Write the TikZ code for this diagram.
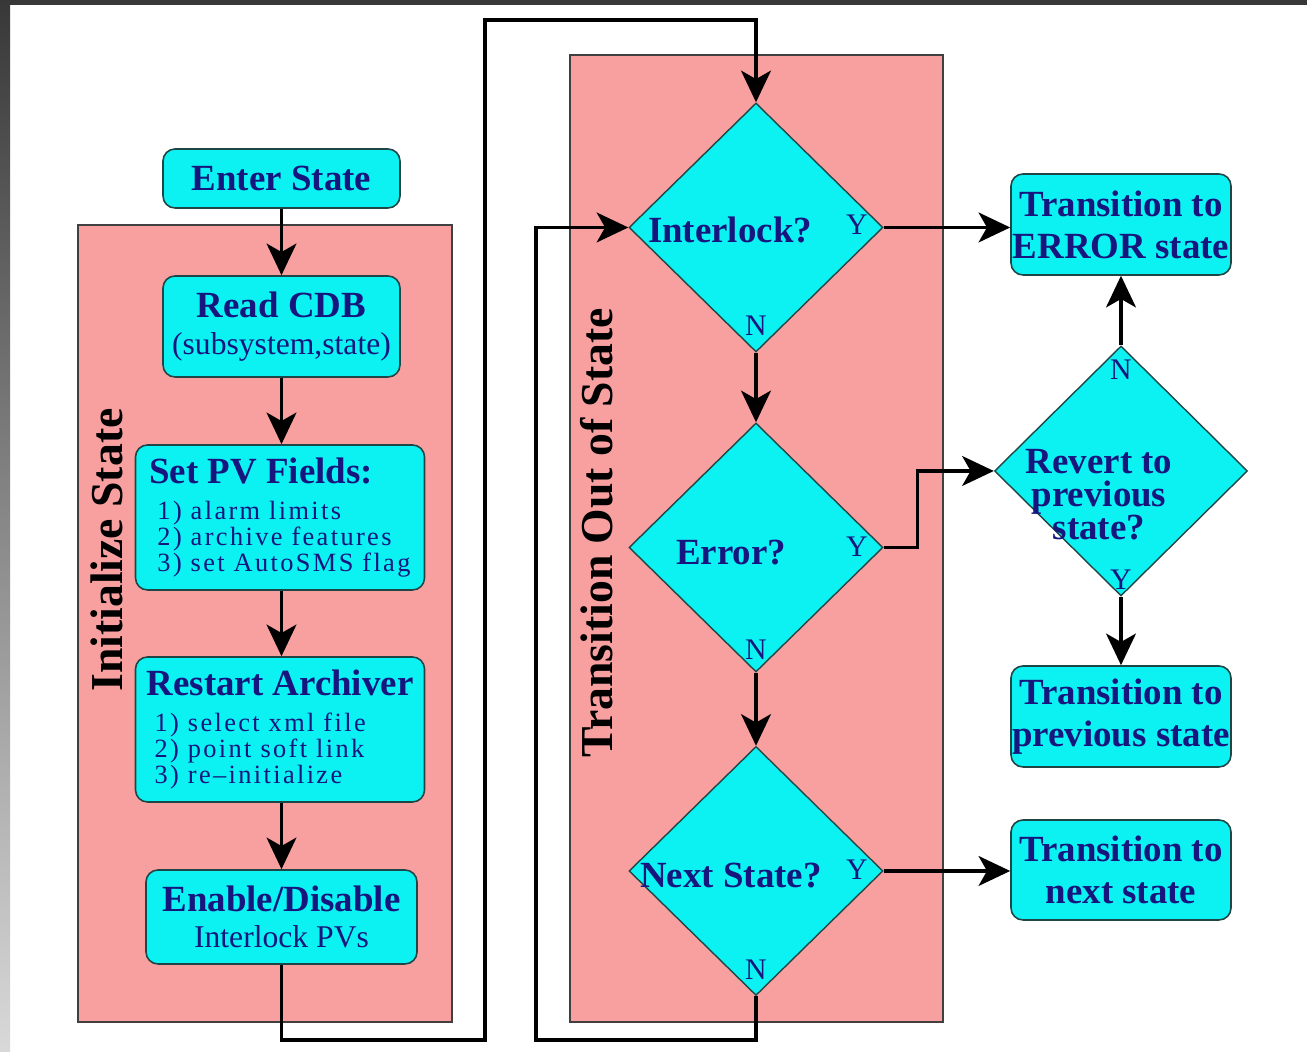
\documentclass[tikz,border=0pt]{standalone}
\usepackage{fontspec}
\setmainfont{Liberation Serif}
\newfontfamily\spacedserif[LetterSpace=9, Ligatures=TeX]{Liberation Serif}
\usetikzlibrary{arrows.meta, shapes.geometric}
\definecolor{boxc}{HTML}{0CF2F2}
\definecolor{panelc}{HTML}{F8A09F}
\definecolor{inkc}{HTML}{16167E}
\definecolor{edgec}{HTML}{1F4646}
\newcommand{\hdfont}{\rmfamily\bfseries\fontsize{10.5}{12}\selectfont}
\newcommand{\itemfont}{\spacedserif\fontsize{7.5}{7.4}\selectfont}
\lineskiplimit=-10pt
\tikzset{
  panel/.style={draw=black!75, fill=panelc, line width=0.5pt},
  stepbox/.style={draw=edgec, fill=boxc, rounded corners=0.12cm, line width=0.45pt,
                  text=inkc, inner sep=0pt, align=center},
  qbox/.style={diamond, draw=edgec, fill=boxc, line width=0.4pt, inner sep=0pt,
               minimum width=2.54cm, minimum height=2.49cm},
  qtxt/.style={text=inkc, font=\hdfont, inner sep=0pt, align=center},
  yn/.style={text=inkc, font=\fontsize{8.5}{9}\selectfont, inner sep=0pt},
  sidettl/.style={font=\bfseries\fontsize{13}{14}\selectfont, rotate=90, inner sep=0pt},
  arr/.style={-{Stealth[length=9pt, width=8.5pt, inset=2.4pt]}, line width=0.9pt},
}

\begin{document}
\begin{tikzpicture}[x=1cm, y=1cm]
\useasboundingbox (0,0) rectangle (13.07,10.52);
\fill[white] (0,0) rectangle (13.07,10.52);
\shade[top color=black!78, bottom color=black!15] (0,0) rectangle (0.1,10.52);
\fill[black!78] (0,10.47) rectangle (13.07,10.52);

% the two phases
\draw[panel] (0.78,0.30) rectangle (4.52,8.27);
\draw[panel] (5.70,0.30) rectangle (9.43,9.97);
\node[sidettl] (initttl) at (1.07,5.02) {Initialize State};
\node[sidettl] (outttl) at (5.97,5.19) {Transition Out of State};

% initialize steps
\node[stepbox, font=\hdfont, minimum width=2.37cm, minimum height=0.59cm] (enter) at (2.815,8.735) {Enter State};
\node[stepbox, font=\fontsize{9}{10.5}\selectfont, minimum width=2.37cm, minimum height=1.01cm] (readcdb) at (2.815,7.255)
  {{\hdfont Read CDB}\\(subsystem,state)};
\node[stepbox, font=\itemfont, align=left, minimum width=2.89cm, minimum height=1.45cm] (setpv) at (2.80,5.345)
  {{\hdfont Set PV Fields:}\\[2.8pt]
   \hspace*{0.08cm}1) alarm limits\\
   \hspace*{0.08cm}2) archive features\\
   \hspace*{0.08cm}3) set AutoSMS flag};
\node[stepbox, font=\itemfont, align=left, minimum width=2.89cm, minimum height=1.45cm] (restart) at (2.80,3.225)
  {{\hdfont Restart Archiver}\\[2.8pt]
   \hspace*{0.08cm}1) select xml file\\
   \hspace*{0.08cm}2) point soft link\\
   \hspace*{0.08cm}3) re–initialize};
\node[stepbox, font=\fontsize{9}{10.2}\selectfont, minimum width=2.71cm, minimum height=0.94cm] (enable) at (2.815,1.35)
  {{\hdfont Enable/Disable}\\Interlock PVs};

% the three questions
\node[qbox] (ilock) at (7.56,8.245) {};
\node[qtxt] (ilockT) at (7.30,8.22) {Interlock?};
\node[yn] (ilockY) at (8.57,8.27) {Y};
\node[yn] (ilockN) at (7.56,7.26) {N};

\node[qbox] (errq) at (7.56,5.045) {};
\node[qtxt] (errqT) at (7.31,4.99) {Error?};
\node[yn] (errqY) at (8.57,5.05) {Y};
\node[yn] (errqN) at (7.56,4.02) {N};

\node[qbox] (nextq) at (7.56,1.81) {};
\node[qtxt] (nextqT) at (7.31,1.76) {Next State?};
\node[yn] (nextqY) at (8.57,1.82) {Y};
\node[yn] (nextqN) at (7.56,0.82) {N};

% outcomes
\node[stepbox, font=\hdfont, minimum width=2.20cm, minimum height=1.01cm] (errbox) at (11.21,8.275) {Transition to\\ERROR state};
\node[qbox, minimum width=2.53cm, minimum height=2.50cm] (revert) at (11.21,5.81) {};
\node[qtxt, font=\rmfamily\bfseries\fontsize{10.5}{9.4}\selectfont] (revertT) at (10.99,5.57) {Revert to\\previous\\state?};
\node[yn] (revertN) at (11.21,6.82) {N};
\node[yn] (revertY) at (11.21,4.72) {Y};
\node[stepbox, font=\hdfont, minimum width=2.20cm, minimum height=1.01cm] (prevbox) at (11.21,3.355) {Transition to\\previous state};
\node[stepbox, font=\hdfont, minimum width=2.20cm, minimum height=1.00cm] (nextbox) at (11.21,1.82) {Transition to\\next state};

% flow
\draw[arr] (enter) -- (readcdb);
\draw[arr] (readcdb) -- (setpv.north -| readcdb.south);
\draw[arr] (setpv.south -| readcdb.south) -- (restart.north -| readcdb.south);
\draw[arr] (restart.south -| readcdb.south) -- (enable);
\coordinate (loopA) at (4.85,0.12);
\coordinate (loopB) at (4.85,10.32);
\coordinate (loopC) at (5.36,0.12);
\draw[arr] (enable.south) |- (loopA) -- (loopB) -| (ilock.north);
\draw[arr] (ilock.south) -- (errq.north);
\draw[arr] (errq.south) -- (nextq.north);
\draw[arr] (nextq.south) |- (loopC) |- (ilock.west);
\draw[arr] (ilock.east) -- (ilock.east -| errbox.west);
\draw[arr] (errq.east) -- ++(0.34,0) |- (revert.west);
\draw[arr] (revert.north) -- (errbox.south);
\draw[arr] (revert.south) -- (prevbox.north);
\draw[arr] (nextq.east) -- (nextq.east -| nextbox.west);
\end{tikzpicture}
\end{document}
